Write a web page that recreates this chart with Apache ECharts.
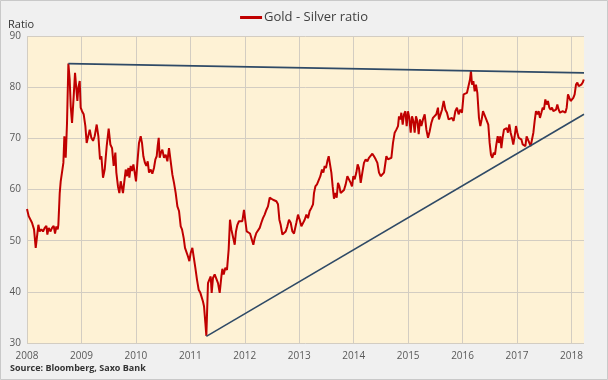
<!DOCTYPE html>
<html><head><meta charset="utf-8">
<script src="https://cdn.jsdelivr.net/npm/echarts@6/dist/echarts.min.js"></script>
<style>html,body{margin:0;padding:0;background:#f0f0f0}#c{width:608px;height:380px}</style>
</head><body><div id="c"></div>
<script>
const seriesName = 'Gold - Silver ratio';
const yTickMin = 30, yTickMax = 90, yTickStep = 10;
const xStartYear = 2008, xEndYear = 2018.23;
const years = [
2008.000,2008.031,2008.062,2008.092,2008.129,2008.160,2008.184,2008.209,2008.233,2008.264,2008.294,2008.325,2008.356,2008.374,2008.399,2008.429,2008.460,2008.490,2008.515,2008.539,2008.564,2008.576,2008.601,2008.619,2008.643,2008.668,2008.686,2008.711,2008.735,2008.760,2008.784,2008.803,2008.827,2008.858,2008.882,2008.907,2008.925,2008.943,2008.968,2008.986,
2009.011,2009.041,2009.072,2009.096,2009.121,2009.152,2009.182,2009.213,2009.243,2009.280,2009.311,2009.341,2009.366,2009.396,2009.427,2009.464,2009.500,2009.531,2009.562,2009.592,2009.623,2009.641,2009.671,2009.696,2009.721,2009.745,2009.763,2009.788,2009.813,2009.837,2009.862,2009.880,2009.904,2009.928,2009.954,2009.978,
2010.002,2010.027,2010.057,2010.088,2010.112,2010.137,2010.167,2010.192,2010.217,2010.241,2010.272,2010.302,2010.332,2010.358,2010.382,2010.400,2010.419,2010.437,2010.461,2010.486,2010.516,2010.547,2010.578,2010.608,2010.639,2010.670,2010.700,2010.731,2010.762,2010.792,2010.823,2010.847,2010.878,2010.902,2010.933,2010.957,2010.982,
2011.006,2011.037,2011.061,2011.092,2011.122,2011.153,2011.184,2011.208,2011.232,2011.251,2011.276,2011.294,2011.324,2011.349,2011.374,2011.392,2011.416,2011.447,2011.478,2011.508,2011.539,2011.570,2011.588,2011.612,2011.643,2011.673,2011.704,2011.728,2011.753,2011.783,2011.815,2011.838,2011.864,2011.893,2011.925,2011.955,2011.985,
2012.010,2012.035,2012.066,2012.096,2012.127,2012.157,2012.182,2012.212,2012.242,2012.274,2012.304,2012.334,2012.365,2012.396,2012.426,2012.457,2012.488,2012.518,2012.549,2012.580,2012.610,2012.635,2012.659,2012.690,2012.720,2012.751,2012.782,2012.812,2012.843,2012.874,2012.904,2012.947,2012.977,
2013.008,2013.039,2013.069,2013.100,2013.131,2013.161,2013.192,2013.223,2013.253,2013.271,2013.296,2013.326,2013.357,2013.388,2013.418,2013.443,2013.467,2013.491,2013.516,2013.541,2013.565,2013.590,2013.614,2013.638,2013.663,2013.688,2013.712,2013.737,2013.761,2013.792,2013.822,2013.853,2013.884,2013.914,2013.945,2013.969,2013.994,
2014.018,2014.049,2014.073,2014.097,2014.129,2014.159,2014.189,2014.220,2014.251,2014.281,2014.312,2014.343,2014.373,2014.404,2014.435,2014.465,2014.496,2014.527,2014.557,2014.600,2014.630,2014.661,2014.692,2014.722,2014.753,2014.784,2014.814,2014.832,2014.857,2014.875,2014.900,2014.924,2014.949,2014.973,2014.997,
2015.022,2015.047,2015.071,2015.096,2015.120,2015.144,2015.169,2015.194,2015.218,2015.243,2015.273,2015.304,2015.335,2015.365,2015.396,2015.426,2015.456,2015.487,2015.518,2015.548,2015.566,2015.591,2015.622,2015.653,2015.684,2015.713,2015.744,2015.775,2015.805,2015.835,2015.867,2015.897,2015.927,2015.959,2015.989,
2016.019,2016.051,2016.081,2016.111,2016.136,2016.154,2016.173,2016.198,2016.222,2016.246,2016.271,2016.301,2016.326,2016.351,2016.375,2016.400,2016.424,2016.448,2016.472,2016.497,2016.521,2016.547,2016.571,2016.595,2016.620,2016.645,2016.668,2016.694,2016.712,2016.735,2016.760,2016.785,2016.810,2016.834,2016.859,2016.883,2016.907,2016.931,2016.956,2016.981,
2017.006,2017.030,2017.054,2017.079,2017.104,2017.128,2017.153,2017.176,2017.201,2017.226,2017.251,2017.275,2017.300,2017.324,2017.348,2017.373,2017.398,2017.421,2017.447,2017.471,2017.494,2017.520,2017.544,2017.568,2017.593,2017.618,2017.642,2017.667,2017.691,2017.715,2017.740,2017.765,2017.789,2017.814,2017.838,2017.862,2017.887,2017.912,2017.936,2017.961,2017.985,
2018.009,2018.034,2018.058,2018.083,2018.108,2018.132,2018.156,2018.181,2018.206,2018.226
];
const ratio = [
56.2,54.8,55.1,53.5,52.2,48.6,48.9,53.1,51.8,52.2,51.8,52.5,52.9,51.2,52.5,51.8,52.5,52.9,51.4,52.8,52.2,53.1,59.3,61.6,61.3,65.2,70.4,66.2,73.0,84.6,81.5,76.3,73.0,78.3,82.8,79.6,77.3,79.9,81.2,76.0,
75.3,74.7,72.4,69.1,68.8,71.7,70.1,69.5,70.4,72.7,70.4,65.9,66.5,62.3,63.9,68.5,71.9,68.8,68.1,64.6,67.2,63.3,60.6,59.3,61.6,61.9,59.3,59.5,63.9,62.6,64.2,62.3,64.6,63.6,64.9,63.3,
61.6,65.2,69.1,70.4,69.1,66.5,65.2,64.6,65.5,63.3,63.9,63.1,64.2,65.9,66.5,68.5,70.1,66.2,67.2,67.8,66.2,66.8,65.5,68.1,65.5,62.9,61.3,59.3,56.7,55.8,52.8,52.2,50.5,48.6,48.3,46.9,46.0,
47.6,48.6,46.9,44.7,42.4,40.4,39.8,40.1,38.1,37.2,33.9,31.4,41.7,42.4,43.0,39.8,42.7,43.4,43.7,41.7,39.8,43.0,44.5,43.4,44.7,44.3,48.3,54.1,52.2,52.2,49.2,51.8,53.1,53.8,53.5,53.8,56.0,
55.8,51.8,51.5,51.4,51.2,49.2,50.5,51.5,51.6,52.5,53.5,54.4,55.1,56.0,56.7,58.4,58.4,58.0,58.0,57.7,57.1,54.1,53.1,51.2,51.1,51.8,52.8,54.1,53.5,51.8,51.4,53.5,55.1,
54.1,52.8,52.5,54.1,55.1,54.4,55.8,56.4,57.1,59.3,60.6,61.0,61.3,62.6,63.9,63.3,64.6,64.2,65.5,66.5,66.2,63.3,60.6,58.2,59.3,58.4,61.3,60.6,59.3,59.6,59.9,61.0,62.6,62.9,61.3,60.6,62.6,
62.0,63.3,64.9,64.2,61.3,63.3,65.2,65.9,65.5,66.2,66.5,67.0,66.5,65.9,65.2,63.3,62.6,62.6,63.3,66.5,65.9,66.2,66.2,69.1,71.1,71.7,72.4,74.3,73.7,75.0,72.7,74.7,75.3,72.4,75.3,
74.0,71.1,74.3,73.4,71.1,74.3,73.4,70.8,73.7,72.4,73.7,74.7,71.7,70.1,71.4,73.0,74.0,74.3,74.7,76.0,73.7,74.0,75.6,77.3,75.6,75.0,73.7,73.4,74.0,73.4,75.3,76.0,74.7,75.6,75.0,
78.6,78.6,78.9,79.2,81.5,83.2,80.5,81.2,79.2,80.5,78.9,74.0,72.4,73.7,75.3,75.6,74.0,74.3,72.7,69.1,66.8,66.2,67.2,66.8,68.8,70.4,69.1,70.4,68.1,70.1,71.7,71.4,72.0,71.1,72.7,71.1,70.1,68.8,70.4,72.4,
71.1,70.1,70.4,69.8,68.8,68.8,68.5,70.4,70.1,69.1,68.5,68.8,71.1,73.4,75.3,74.7,75.3,74.0,75.0,76.0,75.6,77.6,76.6,77.3,76.0,75.6,76.0,75.3,75.0,75.6,76.6,75.6,75.0,75.3,75.3,75.3,75.0,76.0,78.6,77.9,77.3,
77.6,77.9,78.6,80.5,80.9,80.2,79.9,80.5,80.9,81.5
];
const resistanceYears = [2008.76, 2018.23];
const resistanceValues = [84.6, 82.8];
const supportYears = [2011.294, 2018.23];
const supportValues = [31.3, 74.7];

const chart = echarts.init(document.getElementById('c'), null, {renderer: 'canvas'});
const pairs = (xs, ys) => xs.map((x, i) => [x, ys[i]]);
const font = '"Open Sans", "Noto Sans", sans-serif';
chart.setOption({
  backgroundColor: '#f0f0f0',
  animation: false,
  textStyle: {fontFamily: font},
  graphic: [
    {type: 'rect', shape: {x: 0.5, y: 0.5, width: 607, height: 379}, style: {fill: 'none', stroke: '#c9c9c9', lineWidth: 1}, silent: true},
    {type: 'text', left: 8, top: 19, style: {text: 'Ratio', font: '11px ' + font, fill: '#333333'}},
    {type: 'text', left: 10, top: 364, style: {text: 'Source: Bloomberg, Saxo Bank', font: 'bold 9px ' + font, fill: '#333333'}}
  ],
  legend: {
    top: 6, left: 'center',
    data: [{name: seriesName, icon: 'rect'}],
    itemWidth: 22, itemHeight: 3, itemGap: 4,
    textStyle: {fontSize: 13, color: '#404040', fontFamily: font, padding: [0, 0, 0, -3]}
  },
  grid: {left: 27, right: 24, top: 36, bottom: 37, show: true, backgroundColor: '#fef2d5', borderWidth: 0},
  xAxis: {
    type: 'value', min: xStartYear, max: xEndYear, interval: 1,
    axisLine: {show: false}, axisTick: {show: false},
    splitLine: {show: true, showMaxLine: false, lineStyle: {color: '#d3cdc2', width: 1}},
    axisLabel: {color: '#595959', fontSize: 10, margin: 8, showMaxLabel: false,
      formatter: v => (Math.abs(v - Math.round(v)) < 1e-6 ? String(Math.round(v)) : '')}
  },
  yAxis: {
    type: 'value', min: yTickMin, max: yTickMax, interval: yTickStep,
    axisLine: {show: false}, axisTick: {show: false},
    splitLine: {show: true, lineStyle: {color: '#d3cdc2', width: 1}},
    axisLabel: {color: '#595959', fontSize: 10, margin: 6}
  },
  series: [
    {name: seriesName, type: 'line', data: pairs(years, ratio), showSymbol: false, symbol: 'none',
      lineStyle: {color: '#c00000', width: 2}, itemStyle: {color: '#c00000'}, z: 3},
    {name: 'resistance', type: 'line', data: pairs(resistanceYears, resistanceValues), showSymbol: false, symbol: 'none',
      lineStyle: {color: '#2f4a66', width: 1.6}, z: 4},
    {name: 'support', type: 'line', data: pairs(supportYears, supportValues), showSymbol: false, symbol: 'none',
      lineStyle: {color: '#2f4a66', width: 1.6}, z: 4}
  ]
});
</script></body></html>
